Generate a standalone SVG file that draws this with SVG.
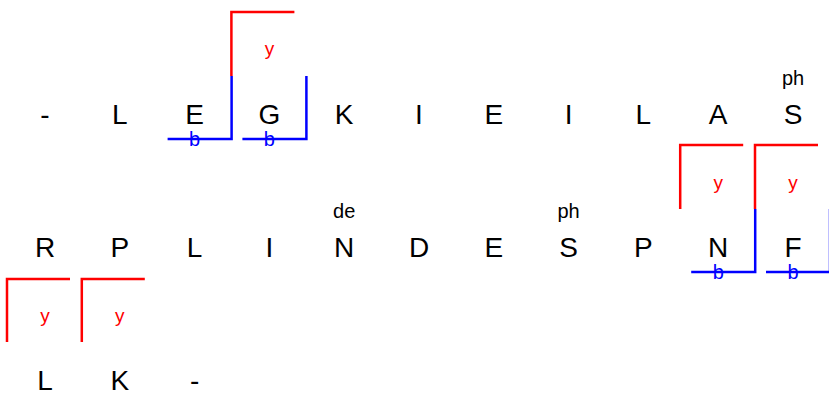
<svg xmlns="http://www.w3.org/2000/svg" width="829" height="393" viewBox="0 0 829 393">
<style>
.res{font-family:"Liberation Sans",Arial,sans-serif;font-size:28px;fill:#000;text-anchor:middle}
.ann{font-family:"Liberation Sans",Arial,sans-serif;font-size:20px;fill:#000;text-anchor:middle}
.ly{font-family:"Liberation Sans",Arial,sans-serif;font-size:19px;fill:#ff0000;text-anchor:middle}
.lb{font-family:"Liberation Sans",Arial,sans-serif;font-size:20px;fill:#0000ff;text-anchor:middle}
.red{fill:none;stroke:#ff0000;stroke-width:2.5}
.blue{fill:none;stroke:#0000ff;stroke-width:2.5}
</style>
<rect width="829" height="393" fill="#fff"/>
<g id="connectors">
<path class="red" d="M231.4,76 V12 H294.4"/>
<path class="blue" d="M231.6,76 V139 H167.6"/>
<path class="blue" d="M306.4,76 V139 H242.4"/>
<path class="red" d="M680.2,209 V145 H743.2"/>
<path class="red" d="M755,209 V145 H818"/>
<path class="blue" d="M755.2,209 V272 H691.2"/>
<path class="blue" d="M830,209 V272 H766"/>
<path class="red" d="M7,342 V279 H70"/>
<path class="red" d="M81.8,342 V279 H144.8"/>
</g>
<g id="labels">
<text class="ly" x="269.4" y="55">y</text>
<text class="lb" x="194.6" y="146">b</text>
<text class="lb" x="269.4" y="146">b</text>
<text class="ly" x="718.2" y="189">y</text>
<text class="ly" x="793" y="189">y</text>
<text class="lb" x="718.2" y="279">b</text>
<text class="lb" x="793" y="279">b</text>
<text class="ly" x="45" y="322">y</text>
<text class="ly" x="119.8" y="322">y</text>
<text class="ann" x="793" y="85">ph</text>
<text class="ann" x="344.2" y="218">de</text>
<text class="ann" x="568.6" y="218">ph</text>
</g>
<g id="row1">
<text class="res" x="45" y="124">-</text>
<text class="res" x="119.8" y="124">L</text>
<text class="res" x="194.6" y="124">E</text>
<text class="res" x="269.4" y="124">G</text>
<text class="res" x="344.2" y="124">K</text>
<text class="res" x="419" y="124">I</text>
<text class="res" x="493.8" y="124">E</text>
<text class="res" x="568.6" y="124">I</text>
<text class="res" x="643.4" y="124">L</text>
<text class="res" x="718.2" y="124">A</text>
<text class="res" x="793" y="124">S</text>
</g>
<g id="row2">
<text class="res" x="45" y="257">R</text>
<text class="res" x="119.8" y="257">P</text>
<text class="res" x="194.6" y="257">L</text>
<text class="res" x="269.4" y="257">I</text>
<text class="res" x="344.2" y="257">N</text>
<text class="res" x="419" y="257">D</text>
<text class="res" x="493.8" y="257">E</text>
<text class="res" x="568.6" y="257">S</text>
<text class="res" x="643.4" y="257">P</text>
<text class="res" x="718.2" y="257">N</text>
<text class="res" x="793" y="257">F</text>
</g>
<g id="row3">
<text class="res" x="45" y="390">L</text>
<text class="res" x="119.8" y="390">K</text>
<text class="res" x="194.6" y="390">-</text>
</g>
</svg>
